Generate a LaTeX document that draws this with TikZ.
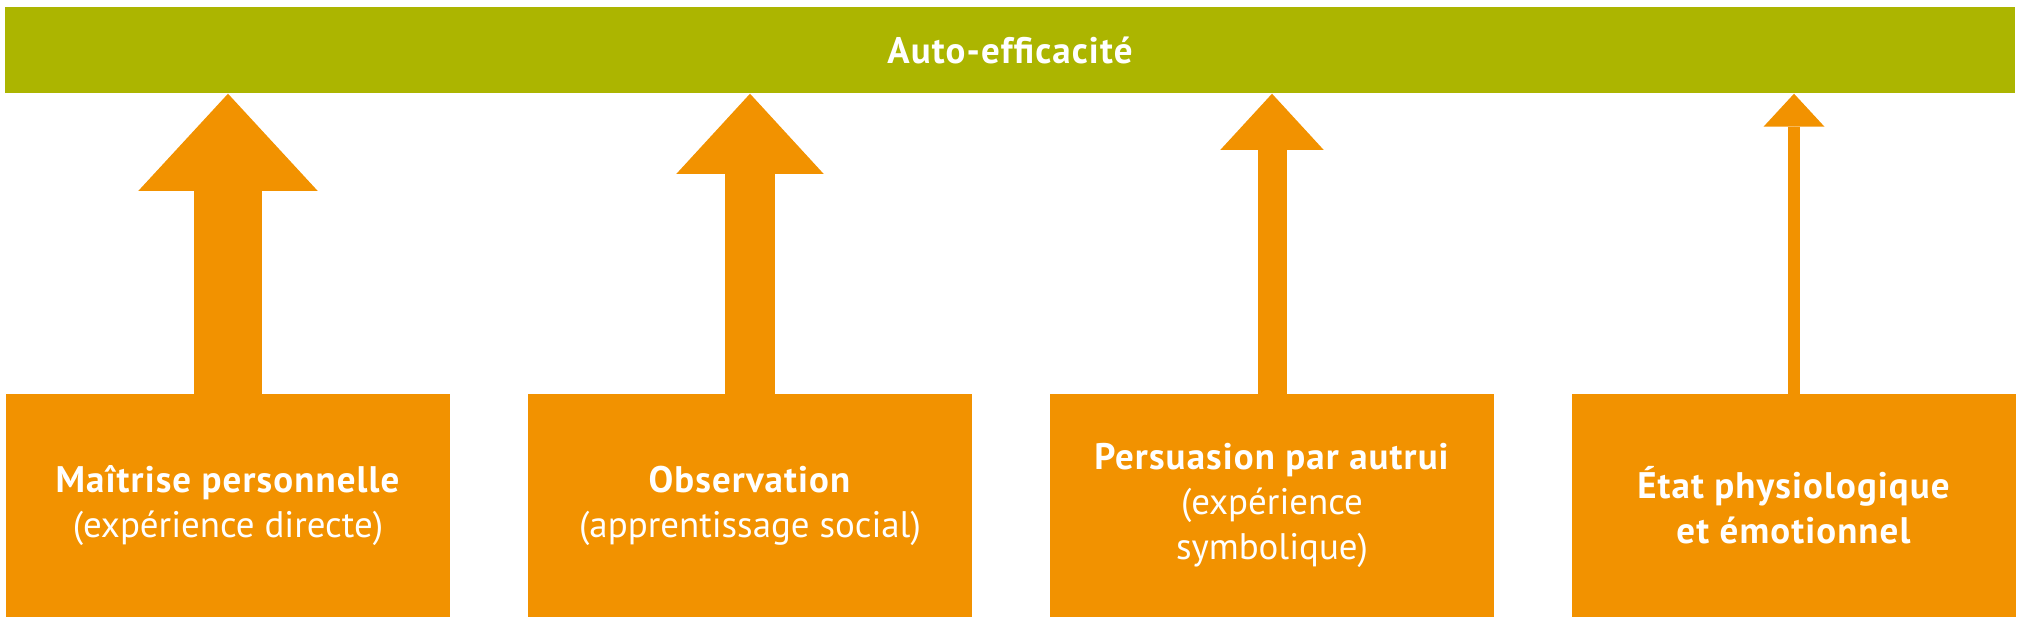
\documentclass[tikz,border=0pt]{standalone}
\usepackage{fontspec}
\setmainfont{PT Sans}[BoldFeatures={LetterSpace=3}]
\usetikzlibrary{arrows.meta}
\definecolor{vertbarre}{RGB}{172,181,0}
\definecolor{orangeboite}{RGB}{242,146,0}

\begin{document}
\begin{tikzpicture}[x=0.01cm, y=-0.01cm,
    boite/.style={fill=orangeboite, text=white, minimum width=4.43cm, minimum height=2.23cm,
        inner sep=0pt, align=center, font=\fontsize{10.5}{12.8}\selectfont},
    fleche/.style={draw=orangeboite, fill=orangeboite}]
    \useasboundingbox (0,0) rectangle (2018,625);
    \node[fill=vertbarre, text=white, minimum width=20.08cm, minimum height=0.86cm, inner sep=0pt,
        font=\fontsize{10.5}{12.8}\selectfont\bfseries] (auto) at (1010,50) {Auto-efficacité};
    \node[boite] (maitrise) at (228,505.5) {\textbf{Maîtrise personnelle}\\(expérience directe)};
    \node[boite] (observation) at (750,505.5) {\textbf{Observation}\\(apprentissage social)};
    \node[boite] (persuasion) at (1272,505.5) {\textbf{Persuasion par autrui}\\(expérience\\symbolique)};
    \node[boite] (etat) at (1794,505.5) {\textbf{État physiologique}\\\textbf{et émotionnel}};
    \draw[fleche, line width=0.67cm, -{Triangle[width=1.79cm, length=0.97cm, line width=0pt]}]
        ([yshift=-2pt]maitrise.north) -- (maitrise.north |- auto.south);
    \draw[fleche, line width=0.49cm, -{Triangle[width=1.47cm, length=0.80cm, line width=0pt]}]
        ([yshift=-2pt]observation.north) -- (observation.north |- auto.south);
    \draw[fleche, line width=0.29cm, -{Triangle[width=1.03cm, length=0.56cm, line width=0pt]}]
        ([yshift=-2pt]persuasion.north) -- (persuasion.north |- auto.south);
    \draw[fleche, line width=0.12cm, -{Triangle[width=0.61cm, length=0.33cm, line width=0pt]}]
        ([yshift=-2pt]etat.north) -- (etat.north |- auto.south);
\end{tikzpicture}
\end{document}
